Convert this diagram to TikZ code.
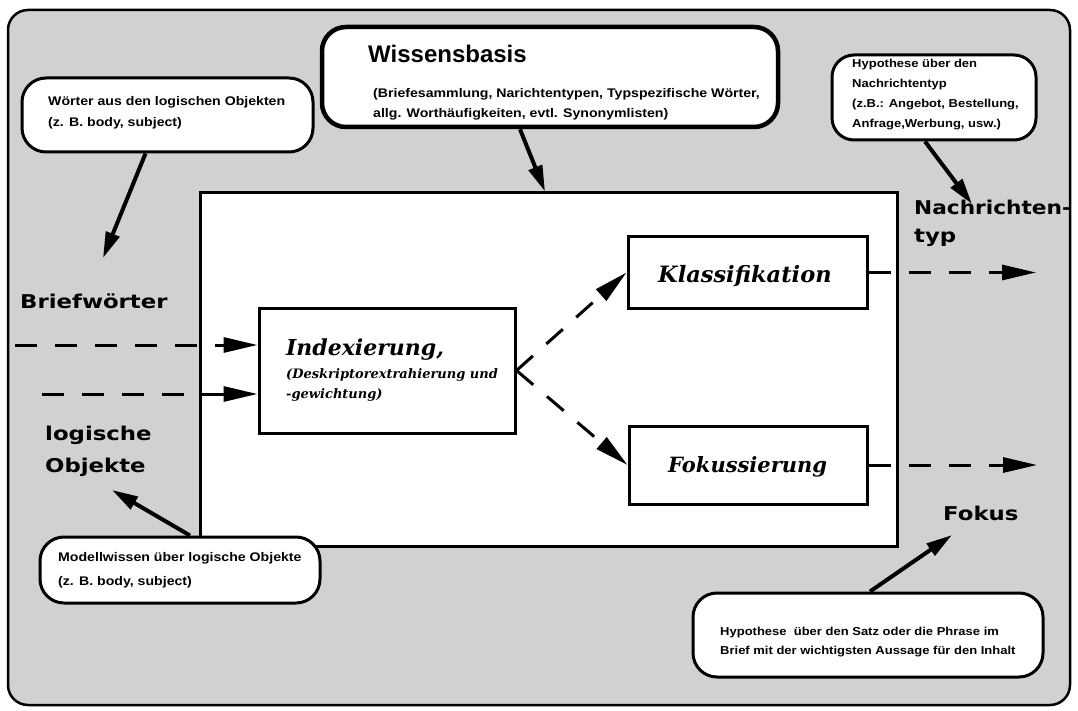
\documentclass[tikz,border=0pt]{standalone}
\usepackage{fontspec}
\setmainfont{Liberation Sans}
\newfontfamily\calfont[FakeStretch=1.13]{Liberation Sans}
\newfontfamily\lblfont[FakeStretch=1.2]{DejaVu Sans}
\newfontfamily\lblfontn[FakeStretch=1.14]{DejaVu Sans}
\newfontfamily\boxfont{DejaVu Serif}
\usetikzlibrary{arrows.meta}
\begin{document}
\begin{tikzpicture}[x=1pt,y=-1pt,
  callout/.style={draw, line width=3pt, fill=white, rounded corners=24pt, inner sep=0pt},
  procbox/.style={draw, line width=3pt, fill=white, inner sep=0pt},
  small/.style={font=\calfont\bfseries\fontsize{12.5}{14}\selectfont, anchor=base west, inner sep=0pt},
  smaller/.style={small, font=\calfont\bfseries\fontsize{11.5}{14}\selectfont},
  lbl/.style={font=\lblfont\bfseries\fontsize{19}{22}\selectfont, anchor=base west, inner sep=0pt},
  boxtxt/.style={font=\boxfont\bfseries\itshape\fontsize{21}{24}\selectfont, anchor=base west, inner sep=0pt},
  boxsmall/.style={font=\boxfont\bfseries\itshape\fontsize{13}{15}\selectfont, anchor=base west, inner sep=0pt},
  flow/.style={line width=3pt, dash pattern=on 22pt off 18pt, -{Triangle[length=34pt,width=15pt]}},
  pointer/.style={line width=4pt, -{Triangle[length=26pt,width=14pt]}},
]
\useasboundingbox (0,0) rectangle (1078,711);
\fill[white] (0,0) rectangle (1078,711);
% background frame
\draw[line width=2.5pt, fill=black!18, rounded corners=20pt] (8,10) rectangle (1070,705);

% main box
\node[procbox, minimum width=697pt, minimum height=353pt] (main) at (548.5,369.5) {};
% inner boxes
\node[procbox, minimum width=256pt, minimum height=125pt] (idx) at (387,370.5) {};
\node[procbox, minimum width=239pt, minimum height=71pt] (kl) at (747.5,272.5) {};
\node[procbox, minimum width=238pt, minimum height=78pt] (fk) at (748,465) {};

% callouts
\node[callout, line width=4.5pt, minimum width=456pt, minimum height=100pt] (wb) at (550,77) {};
\node[callout, minimum width=291pt, minimum height=74pt] (wo) at (167.5,115) {};
\node[callout, rounded corners=22pt, minimum width=204pt, minimum height=85pt] (hn) at (934,97.5) {};
\node[callout, minimum width=280pt, minimum height=66pt] (mo) at (180,570) {};
\node[callout, minimum width=350pt, minimum height=84pt] (hs) at (868,635) {};

% callout texts
\node[font=\bfseries\fontsize{24}{28}\selectfont, anchor=base west, inner sep=0pt] (wbt) at (368,63) {Wissensbasis};
\node[small] (wb1) at (373,98) {(Briefesammlung, Narichtentypen, Typspezifische Wörter,};
\node[small] (wb2) at (373,118) {allg. Worthäufigkeiten, evtl. Synonymlisten)};
\node[small] (wo1) at (48,106) {Wörter aus den logischen Objekten};
\node[small] (wo2) at (48,127) {(z. B. body, subject)};
\node[smaller] (hn1) at (852,68) {Hypothese über den};
\node[smaller] (hn2) at (852,88) {Nachrichtentyp};
\node[smaller] (hn3) at (852,108) {(z.B.: Angebot, Bestellung,};
\node[smaller] (hn4) at (852,128) {Anfrage,Werbung, usw.)};
\node[small] (mo1) at (58,561) {Modellwissen über logische Objekte};
\node[small] (mo2) at (58,585) {(z. B. body, subject)};
\node[smaller] (hs1) at (720,635) {Hypothese \ über den Satz oder die Phrase im};
\node[smaller] (hs2) at (720,654) {Brief mit der wichtigsten Aussage für den Inhalt};

% box texts
\node[boxtxt, font=\boxfont\bfseries\itshape\fontsize{22}{24}\selectfont] (idxt) at (286,355) {Indexierung,};
\node[boxsmall] (idx1) at (286,378) {(Deskriptorextrahierung und};
\node[boxsmall] (idx2) at (286,398) {-gewichtung)};
\node[boxtxt, font=\boxfont\bfseries\itshape\fontsize{22.5}{24}\selectfont] (klt) at (658,282) {Klassifikation};
\node[boxtxt] (fkt) at (668,472) {Fokussierung};

% labels
\node[lbl] (lbw) at (20,308) {Briefwörter};
\node[lbl] (llo1) at (45,440) {logische};
\node[lbl] (llo2) at (45,472) {Objekte};
\node[lbl, font=\lblfontn\bfseries\fontsize{19}{22}\selectfont] (lnt1) at (914,215) {Nachrichten-};
\node[lbl] (lnt2) at (914,243) {typ};
\node[lbl] (lfo) at (943,520) {Fokus};

% flow arrows
\coordinate (b1) at (15,345);
\coordinate (b2) at (42,394);
\coordinate (nt) at (1036,272.5);
\coordinate (fo) at (1037,465);
\draw[flow] (b1) -- (b1 -| idx.west);
\draw[flow] (b2) -- (b2 -| idx.west);
\draw[flow] (idx.east) -- (kl.west);
\draw[flow] (idx.east) -- (fk.west);
\draw[flow] (kl.east) -- (nt);
\draw[flow] (fk.east) -- (fo);

% pointers
\coordinate (twt) at (103,258);
\coordinate (thn) at (972,204);
\coordinate (tmo) at (112,490);
\coordinate (ths) at (952,535);
\draw[pointer] ([xshift=-22pt]wo.south) -- (twt);
\draw[pointer] ([xshift=-30pt]wb.south) -- ([xshift=-3.5pt]main.north);
\draw[pointer] ([xshift=-9pt]hn.south) -- (thn);
\draw[pointer] ([xshift=10pt]mo.north) -- (tmo);
\draw[pointer] ([xshift=2pt]hs.north) -- (ths);
\end{tikzpicture}
\end{document}
